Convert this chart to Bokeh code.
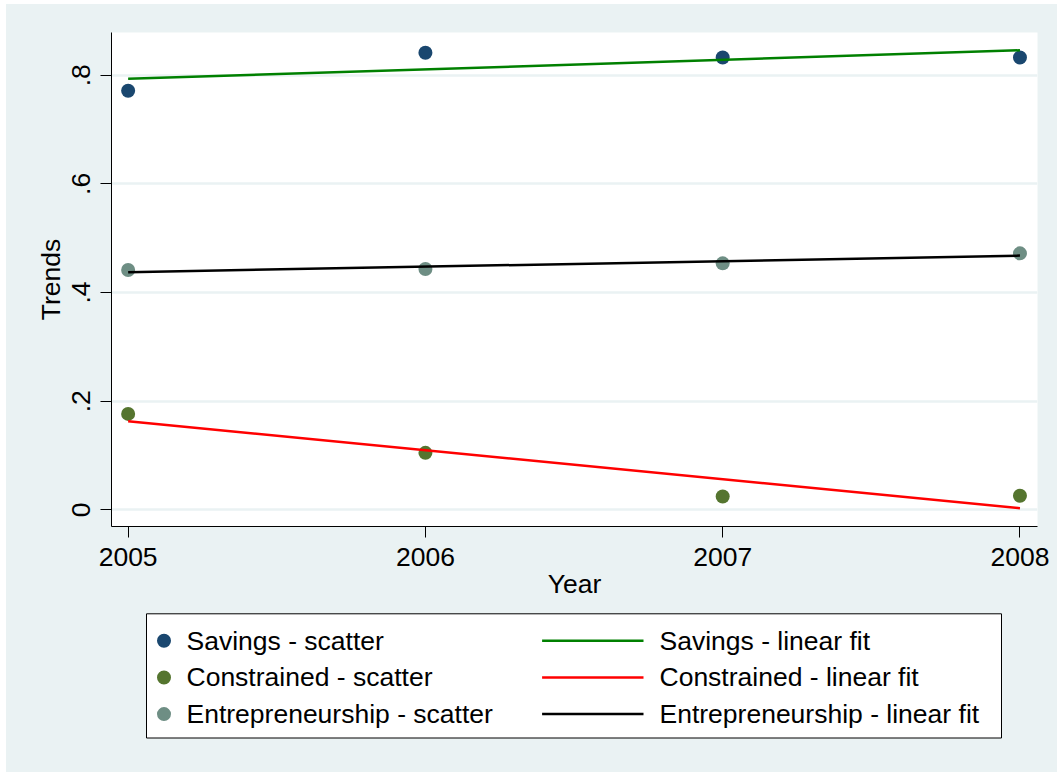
import numpy as np
from bokeh.plotting import figure
from bokeh.models import Range1d, FixedTicker
from bokeh.layouts import column
from bokeh.core.properties import value
from bokeh.embed import file_html
from bokeh.resources import INLINE

# ---- data -----------------------------------------------------------------
years = [2005, 2006, 2007, 2008]
savings = [0.7715, 0.8414, 0.8328, 0.8328]
constrained = [0.1766, 0.1049, 0.0245, 0.0258]
entrepreneurship = [0.4416, 0.4434, 0.4537, 0.4721]

series_names = ["Savings", "Constrained", "Entrepreneurship"]
series_values = [savings, constrained, entrepreneurship]
scatter_colors = ["#1a476f", "#55752f", "#6e8e84"]
fit_colors = ["#008000", "#ff0000", "#000000"]

y_ticks = [0, 0.2, 0.4, 0.6, 0.8]
y_tick_labels = ["0", ".2", ".4", ".6", ".8"]
x_ticks = years

# ---- styling ----------------------------------------------------------------
BG = "#eaf2f3"
FONT = "Liberation Sans"
FSIZE = "26.5px"
BORDER_L, BORDER_R = 105, 20
LINE_W = 2.5

p = figure(
    width=1051, height=608,
    x_range=Range1d(2004.944, 2008.059),
    y_range=Range1d(-0.0307, 0.8787),
    output_backend="svg", toolbar_location=None,
    min_border_left=BORDER_L, min_border_right=BORDER_R,
    min_border_top=28, min_border_bottom=86,
    background_fill_color="white", border_fill_color=BG,
    outline_line_color=None,
)

p.xgrid.grid_line_color = None
p.ygrid.grid_line_color = BG
p.ygrid.grid_line_width = 2.5
p.ygrid.ticker = FixedTicker(ticks=y_ticks)

for ax in (p.xaxis, p.yaxis):
    ax.axis_line_color = "black"
    ax.axis_line_width = 1
    ax.major_tick_line_color = "black"
    ax.major_tick_out = 11
    ax.major_tick_in = 0
    ax.minor_tick_line_color = None
    ax.major_label_text_font = FONT
    ax.major_label_text_font_size = FSIZE
    ax.major_label_text_color = "black"
    ax.axis_label_text_font = FONT
    ax.axis_label_text_font_size = FSIZE
    ax.axis_label_text_font_style = "normal"
    ax.axis_label_text_color = "black"

p.xaxis.ticker = FixedTicker(ticks=x_ticks)
p.xaxis.major_label_standoff = 10
p.xaxis.axis_label = "Year"
p.xaxis.axis_label_standoff = 0

p.yaxis.ticker = FixedTicker(ticks=y_ticks)
p.yaxis.major_label_overrides = dict(zip(y_ticks, y_tick_labels))
p.yaxis.major_label_orientation = "vertical"
p.yaxis.major_label_standoff = 10
p.yaxis.axis_label = "Trends"
p.yaxis.axis_label_standoff = 4

# scatter points first, fitted lines drawn over them
for vals, col in zip(series_values, scatter_colors):
    p.scatter(years, vals, size=14, fill_color=col, line_color=None)
for vals, col in zip(series_values, fit_colors):
    slope, icpt = np.polyfit(years, vals, 1)
    ends = [years[0], years[-1]]
    p.line(ends, [slope * x + icpt for x in ends], line_color=col, line_width=LINE_W)

# ---- key box below the plot (pixel-like coordinates of the page) -------------
KX0, KX1 = 111, 1037          # horizontal extent of this strip's frame
KY0, KY1 = 612, 772           # vertical extent of this strip
leg = figure(
    width=1051, height=KY1 - KY0,
    x_range=Range1d(KX0, KX1), y_range=Range1d(KY1, KY0),
    output_backend="svg", toolbar_location=None,
    x_axis_type=None, y_axis_type=None,
    min_border_left=BORDER_L, min_border_right=BORDER_R,
    min_border_top=0, min_border_bottom=0,
    background_fill_color=BG, border_fill_color=BG,
    outline_line_color=None,
)

box_left, box_right, box_top, box_bottom = 146, 1001, 613.3, 737.5
leg.quad(left=[box_left], right=[box_right], top=[box_top], bottom=[box_bottom],
         fill_color="white", line_color="black", line_width=1)

row_y = [box_top + 27 + i * 36.65 for i in range(len(series_names))]
n = len(series_names)
leg.scatter([box_left + 17.5] * n, row_y, size=14, fill_color=scatter_colors, line_color=None)
leg.text([box_left + 40] * n, row_y, text=[f"{s} - scatter" for s in series_names],
         text_font=value(FONT), text_font_size=value(FSIZE),
         text_baseline="middle", text_color="black")
leg.segment([box_left + 395.6] * n, row_y, [box_left + 497] * n, row_y,
            line_color=fit_colors, line_width=LINE_W)
leg.text([box_left + 513] * n, row_y, text=[f"{s} - linear fit" for s in series_names],
         text_font=value(FONT), text_font_size=value(FSIZE),
         text_baseline="middle", text_color="black")

layout = column(p, leg, spacing=0, margin=(4, 0, 0, 6),
                styles={"background-color": BG})

open("out.html", "w").write(file_html(layout, INLINE))
